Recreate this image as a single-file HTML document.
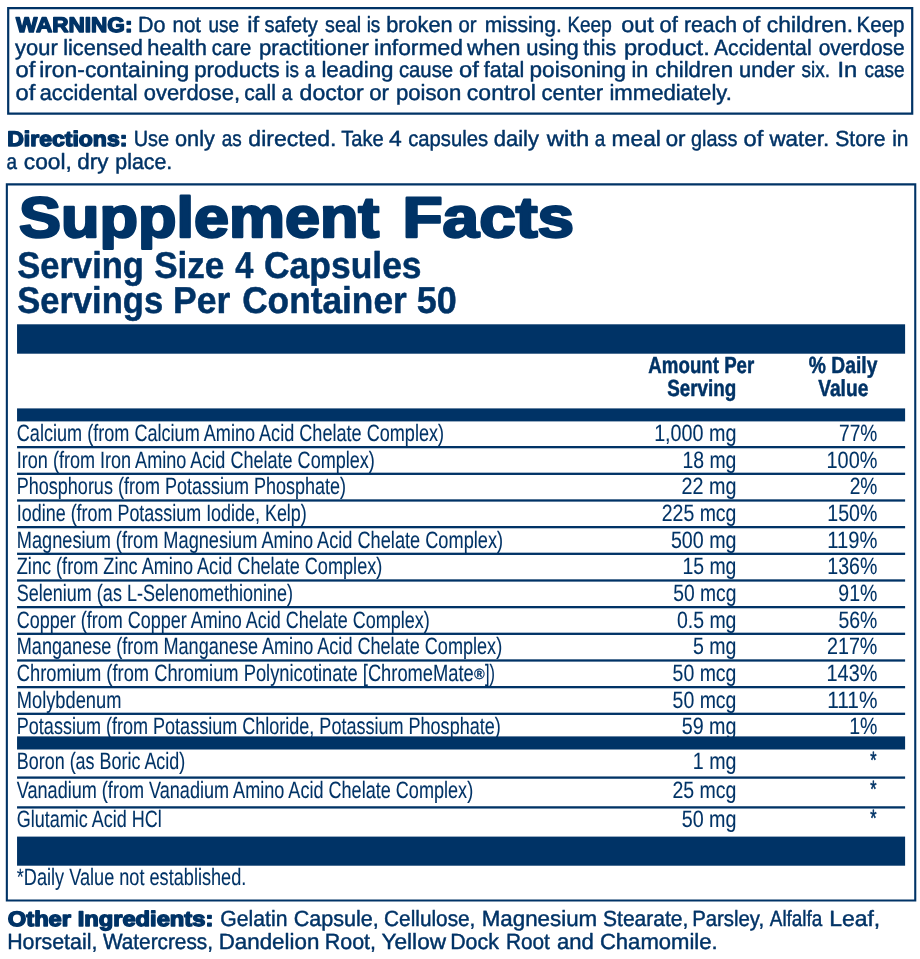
<!DOCTYPE html>
<html lang="en"><head><meta charset="utf-8"><title>Supplement Facts</title>
<style>html,body{margin:0;padding:0;background:#fff;}body{width:920px;height:959px;overflow:hidden;}svg{display:block;will-change:transform;}</style>
</head><body>
<svg width="920" height="959" viewBox="0 0 920 959">
<g fill="#003366">
<path fill-rule="evenodd" d="M7.10 7.00H913.30V114.80H7.10Z M9.30 9.20V112.60H911.10V9.20Z"/>
<path fill-rule="evenodd" d="M5.80 183.30H916.30V901.50H5.80Z M7.90 185.40V899.40H914.20V185.40Z"/>
<rect x="17.05" y="324.30" width="888.05" height="29.40"/>
<rect x="17.05" y="408.40" width="888.05" height="13.00"/>
<rect x="17.05" y="446.00" width="888.05" height="2.30"/>
<rect x="17.05" y="472.67" width="888.05" height="2.30"/>
<rect x="17.05" y="499.33" width="888.05" height="2.30"/>
<rect x="17.05" y="526.00" width="888.05" height="2.30"/>
<rect x="17.05" y="552.67" width="888.05" height="2.30"/>
<rect x="17.05" y="579.33" width="888.05" height="2.30"/>
<rect x="17.05" y="606.00" width="888.05" height="2.30"/>
<rect x="17.05" y="632.67" width="888.05" height="2.30"/>
<rect x="17.05" y="659.33" width="888.05" height="2.30"/>
<rect x="17.05" y="686.00" width="888.05" height="2.30"/>
<rect x="17.05" y="712.67" width="888.05" height="2.30"/>
<rect x="17.05" y="736.40" width="888.05" height="13.10"/>
<rect x="17.05" y="776.45" width="888.05" height="2.30"/>
<rect x="17.05" y="806.25" width="888.05" height="2.30"/>
<rect x="17.05" y="836.60" width="888.05" height="29.10"/>
</g>
<g fill="#003366" stroke="#003366" stroke-width="0" stroke-linejoin="round" text-rendering="geometricPrecision" font-family="'Liberation Sans', Arial, sans-serif">
<text x="15.90" y="32.00" font-size="21" font-weight="bold" stroke-width="1.4" textLength="116.54" lengthAdjust="spacingAndGlyphs">WARNING:</text>
<text x="138.06" y="32.00" font-size="22" stroke-width="0.45" textLength="27.53" lengthAdjust="spacingAndGlyphs">Do</text>
<text x="172.52" y="32.00" font-size="22" stroke-width="0.45" textLength="28.56" lengthAdjust="spacingAndGlyphs">not</text>
<text x="208.55" y="32.00" font-size="22" stroke-width="0.45" textLength="30.50" lengthAdjust="spacingAndGlyphs">use</text>
<text x="247.16" y="32.00" font-size="22" stroke-width="0.45" textLength="11.88" lengthAdjust="spacingAndGlyphs">if</text>
<text x="264.48" y="32.00" font-size="22" stroke-width="0.45" textLength="53.29" lengthAdjust="spacingAndGlyphs">safety</text>
<text x="325.09" y="32.00" font-size="22" stroke-width="0.45" textLength="36.13" lengthAdjust="spacingAndGlyphs">seal</text>
<text x="366.67" y="32.00" font-size="22" stroke-width="0.45" textLength="13.66" lengthAdjust="spacingAndGlyphs">is</text>
<text x="386.24" y="32.00" font-size="22" stroke-width="0.45" textLength="66.35" lengthAdjust="spacingAndGlyphs">broken</text>
<text x="458.49" y="32.00" font-size="22" stroke-width="0.45" textLength="18.08" lengthAdjust="spacingAndGlyphs">or</text>
<text x="484.69" y="32.00" font-size="22" stroke-width="0.45" textLength="77.12" lengthAdjust="spacingAndGlyphs">missing.</text>
<text x="567.49" y="32.00" font-size="22" stroke-width="0.45" textLength="44.19" lengthAdjust="spacingAndGlyphs">Keep</text>
<text x="621.17" y="32.00" font-size="22" stroke-width="0.45" textLength="32.53" lengthAdjust="spacingAndGlyphs">out</text>
<text x="659.62" y="32.00" font-size="22" stroke-width="0.45" textLength="18.36" lengthAdjust="spacingAndGlyphs">of</text>
<text x="683.97" y="32.00" font-size="22" stroke-width="0.45" textLength="53.09" lengthAdjust="spacingAndGlyphs">reach</text>
<text x="742.24" y="32.00" font-size="22" stroke-width="0.45" textLength="17.94" lengthAdjust="spacingAndGlyphs">of</text>
<text x="766.79" y="32.00" font-size="22" stroke-width="0.45" textLength="86.27" lengthAdjust="spacingAndGlyphs">children.</text>
<text x="856.54" y="32.00" font-size="22" stroke-width="0.45" textLength="48.01" lengthAdjust="spacingAndGlyphs">Keep</text>
<text x="15.12" y="55.00" font-size="22" stroke-width="0.45" textLength="42.57" lengthAdjust="spacingAndGlyphs">your</text>
<text x="63.14" y="55.00" font-size="22" stroke-width="0.45" textLength="79.75" lengthAdjust="spacingAndGlyphs">licensed</text>
<text x="147.34" y="55.00" font-size="22" stroke-width="0.45" textLength="59.46" lengthAdjust="spacingAndGlyphs">health</text>
<text x="211.80" y="55.00" font-size="22" stroke-width="0.45" textLength="39.34" lengthAdjust="spacingAndGlyphs">care</text>
<text x="259.01" y="55.00" font-size="22" stroke-width="0.45" textLength="109.89" lengthAdjust="spacingAndGlyphs">practitioner</text>
<text x="374.07" y="55.00" font-size="22" stroke-width="0.45" textLength="88.79" lengthAdjust="spacingAndGlyphs">informed</text>
<text x="467.13" y="55.00" font-size="22" stroke-width="0.45" textLength="53.30" lengthAdjust="spacingAndGlyphs">when</text>
<text x="526.23" y="55.00" font-size="22" stroke-width="0.45" textLength="52.58" lengthAdjust="spacingAndGlyphs">using</text>
<text x="583.13" y="55.00" font-size="22" stroke-width="0.45" textLength="33.12" lengthAdjust="spacingAndGlyphs">this</text>
<text x="623.90" y="55.00" font-size="22" stroke-width="0.45" textLength="85.85" lengthAdjust="spacingAndGlyphs">product.</text>
<text x="713.93" y="55.00" font-size="22" stroke-width="0.45" textLength="97.69" lengthAdjust="spacingAndGlyphs">Accidental</text>
<text x="818.67" y="55.00" font-size="22" stroke-width="0.45" textLength="85.99" lengthAdjust="spacingAndGlyphs">overdose</text>
<text x="15.46" y="77.00" font-size="22" stroke-width="0.45" textLength="19.82" lengthAdjust="spacingAndGlyphs">of</text>
<text x="39.17" y="77.00" font-size="22" stroke-width="0.45" textLength="149.99" lengthAdjust="spacingAndGlyphs">iron-containing</text>
<text x="194.21" y="77.00" font-size="22" stroke-width="0.45" textLength="85.37" lengthAdjust="spacingAndGlyphs">products</text>
<text x="285.22" y="77.00" font-size="22" stroke-width="0.45" textLength="13.66" lengthAdjust="spacingAndGlyphs">is</text>
<text x="304.82" y="77.00" font-size="22" stroke-width="0.45" textLength="10.52" lengthAdjust="spacingAndGlyphs">a</text>
<text x="321.40" y="77.00" font-size="22" stroke-width="0.45" textLength="72.13" lengthAdjust="spacingAndGlyphs">leading</text>
<text x="398.89" y="77.00" font-size="22" stroke-width="0.45" textLength="54.25" lengthAdjust="spacingAndGlyphs">cause</text>
<text x="459.06" y="77.00" font-size="22" stroke-width="0.45" textLength="19.82" lengthAdjust="spacingAndGlyphs">of</text>
<text x="483.73" y="77.00" font-size="22" stroke-width="0.45" textLength="40.60" lengthAdjust="spacingAndGlyphs">fatal</text>
<text x="529.59" y="77.00" font-size="22" stroke-width="0.45" textLength="96.55" lengthAdjust="spacingAndGlyphs">poisoning</text>
<text x="631.55" y="77.00" font-size="22" stroke-width="0.45" textLength="16.84" lengthAdjust="spacingAndGlyphs">in</text>
<text x="655.32" y="77.00" font-size="22" stroke-width="0.45" textLength="77.70" lengthAdjust="spacingAndGlyphs">children</text>
<text x="739.04" y="77.00" font-size="22" stroke-width="0.45" textLength="55.86" lengthAdjust="spacingAndGlyphs">under</text>
<text x="801.57" y="77.00" font-size="22" stroke-width="0.45" textLength="28.38" lengthAdjust="spacingAndGlyphs">six.</text>
<text x="837.43" y="77.00" font-size="22" stroke-width="0.45" textLength="19.82" lengthAdjust="spacingAndGlyphs">In</text>
<text x="864.55" y="77.00" font-size="22" stroke-width="0.45" textLength="40.03" lengthAdjust="spacingAndGlyphs">case</text>
<text x="15.46" y="100.00" font-size="22" stroke-width="0.45" textLength="19.82" lengthAdjust="spacingAndGlyphs">of</text>
<text x="39.74" y="100.00" font-size="22" stroke-width="0.45" textLength="97.81" lengthAdjust="spacingAndGlyphs">accidental</text>
<text x="143.83" y="100.00" font-size="22" stroke-width="0.45" textLength="96.15" lengthAdjust="spacingAndGlyphs">overdose,</text>
<text x="244.26" y="100.00" font-size="22" stroke-width="0.45" textLength="31.64" lengthAdjust="spacingAndGlyphs">call</text>
<text x="281.87" y="100.00" font-size="22" stroke-width="0.45" textLength="10.52" lengthAdjust="spacingAndGlyphs">a</text>
<text x="299.58" y="100.00" font-size="22" stroke-width="0.45" textLength="64.14" lengthAdjust="spacingAndGlyphs">doctor</text>
<text x="369.21" y="100.00" font-size="22" stroke-width="0.45" textLength="19.79" lengthAdjust="spacingAndGlyphs">or</text>
<text x="395.91" y="100.00" font-size="22" stroke-width="0.45" textLength="65.31" lengthAdjust="spacingAndGlyphs">poison</text>
<text x="466.89" y="100.00" font-size="22" stroke-width="0.45" textLength="68.94" lengthAdjust="spacingAndGlyphs">control</text>
<text x="541.52" y="100.00" font-size="22" stroke-width="0.45" textLength="61.59" lengthAdjust="spacingAndGlyphs">center</text>
<text x="609.42" y="100.00" font-size="22" stroke-width="0.45" textLength="122.48" lengthAdjust="spacingAndGlyphs">immediately.</text>
<text x="7.17" y="146.00" font-size="21" font-weight="bold" stroke-width="1.4" textLength="120.22" lengthAdjust="spacingAndGlyphs">Directions:</text>
<text x="133.68" y="146.00" font-size="22" stroke-width="0.45" textLength="35.34" lengthAdjust="spacingAndGlyphs">Use</text>
<text x="175.04" y="146.00" font-size="22" stroke-width="0.45" textLength="39.84" lengthAdjust="spacingAndGlyphs">only</text>
<text x="221.72" y="146.00" font-size="22" stroke-width="0.45" textLength="19.98" lengthAdjust="spacingAndGlyphs">as</text>
<text x="248.39" y="146.00" font-size="22" stroke-width="0.45" textLength="88.09" lengthAdjust="spacingAndGlyphs">directed.</text>
<text x="341.26" y="146.00" font-size="22" stroke-width="0.45" textLength="42.37" lengthAdjust="spacingAndGlyphs">Take</text>
<text x="388.90" y="146.00" font-size="22" stroke-width="0.45" textLength="12.73" lengthAdjust="spacingAndGlyphs">4</text>
<text x="408.20" y="146.00" font-size="22" stroke-width="0.45" textLength="79.82" lengthAdjust="spacingAndGlyphs">capsules</text>
<text x="493.72" y="146.00" font-size="22" stroke-width="0.45" textLength="45.25" lengthAdjust="spacingAndGlyphs">daily</text>
<text x="546.85" y="146.00" font-size="22" stroke-width="0.45" textLength="42.25" lengthAdjust="spacingAndGlyphs">with</text>
<text x="594.77" y="146.00" font-size="22" stroke-width="0.45" textLength="10.52" lengthAdjust="spacingAndGlyphs">a</text>
<text x="611.58" y="146.00" font-size="22" stroke-width="0.45" textLength="49.23" lengthAdjust="spacingAndGlyphs">meal</text>
<text x="665.71" y="146.00" font-size="22" stroke-width="0.45" textLength="19.79" lengthAdjust="spacingAndGlyphs">or</text>
<text x="691.01" y="146.00" font-size="22" stroke-width="0.45" textLength="46.40" lengthAdjust="spacingAndGlyphs">glass</text>
<text x="743.56" y="146.00" font-size="22" stroke-width="0.45" textLength="19.82" lengthAdjust="spacingAndGlyphs">of</text>
<text x="769.43" y="146.00" font-size="22" stroke-width="0.45" textLength="59.80" lengthAdjust="spacingAndGlyphs">water.</text>
<text x="835.26" y="146.00" font-size="22" stroke-width="0.45" textLength="50.31" lengthAdjust="spacingAndGlyphs">Store</text>
<text x="892.19" y="146.00" font-size="22" stroke-width="0.45" textLength="16.36" lengthAdjust="spacingAndGlyphs">in</text>
<text x="6.62" y="169.00" font-size="22" stroke-width="0.45" textLength="10.52" lengthAdjust="spacingAndGlyphs">a</text>
<text x="23.79" y="169.00" font-size="22" stroke-width="0.45" textLength="48.06" lengthAdjust="spacingAndGlyphs">cool,</text>
<text x="77.21" y="169.00" font-size="22" stroke-width="0.45" textLength="31.17" lengthAdjust="spacingAndGlyphs">dry</text>
<text x="115.27" y="169.00" font-size="22" stroke-width="0.45" textLength="56.96" lengthAdjust="spacingAndGlyphs">place.</text>
<text x="7.80" y="926.00" font-size="21" font-weight="bold" stroke-width="1.4" textLength="205.55" lengthAdjust="spacingAndGlyphs">Other Ingredients:</text>
<text x="220.37" y="926.00" font-size="22" stroke-width="0.45" textLength="67.09" lengthAdjust="spacingAndGlyphs">Gelatin</text>
<text x="293.75" y="926.00" font-size="22" stroke-width="0.45" textLength="85.10" lengthAdjust="spacingAndGlyphs">Capsule,</text>
<text x="384.09" y="926.00" font-size="22" stroke-width="0.45" textLength="91.30" lengthAdjust="spacingAndGlyphs">Cellulose,</text>
<text x="481.70" y="926.00" font-size="22" stroke-width="0.45" textLength="115.53" lengthAdjust="spacingAndGlyphs">Magnesium</text>
<text x="603.07" y="926.00" font-size="22" stroke-width="0.45" textLength="85.23" lengthAdjust="spacingAndGlyphs">Stearate,</text>
<text x="692.16" y="926.00" font-size="22" stroke-width="0.45" textLength="71.98" lengthAdjust="spacingAndGlyphs">Parsley,</text>
<text x="769.78" y="926.00" font-size="22" stroke-width="0.45" textLength="52.58" lengthAdjust="spacingAndGlyphs">Alfalfa</text>
<text x="829.15" y="926.00" font-size="22" stroke-width="0.45" textLength="51.02" lengthAdjust="spacingAndGlyphs">Leaf,</text>
<text x="7.18" y="949.00" font-size="22" stroke-width="0.45" textLength="90.15" lengthAdjust="spacingAndGlyphs">Horsetail,</text>
<text x="102.92" y="949.00" font-size="22" stroke-width="0.45" textLength="110.06" lengthAdjust="spacingAndGlyphs">Watercress,</text>
<text x="218.70" y="949.00" font-size="22" stroke-width="0.45" textLength="100.63" lengthAdjust="spacingAndGlyphs">Dandelion</text>
<text x="324.77" y="949.00" font-size="22" stroke-width="0.45" textLength="51.27" lengthAdjust="spacingAndGlyphs">Root,</text>
<text x="381.51" y="949.00" font-size="22" stroke-width="0.45" textLength="64.55" lengthAdjust="spacingAndGlyphs">Yellow</text>
<text x="450.18" y="949.00" font-size="22" stroke-width="0.45" textLength="48.70" lengthAdjust="spacingAndGlyphs">Dock</text>
<text x="505.92" y="949.00" font-size="22" stroke-width="0.45" textLength="43.96" lengthAdjust="spacingAndGlyphs">Root</text>
<text x="556.92" y="949.00" font-size="22" stroke-width="0.45" textLength="36.79" lengthAdjust="spacingAndGlyphs">and</text>
<text x="599.92" y="949.00" font-size="22" stroke-width="0.45" textLength="117.77" lengthAdjust="spacingAndGlyphs">Chamomile.</text>
<text x="19.12" y="237.10" font-size="57" font-weight="bold" stroke-width="2.4" textLength="360.19" lengthAdjust="spacingAndGlyphs">Supplement</text>
<text x="402.50" y="237.10" font-size="57" font-weight="bold" stroke-width="2.4" textLength="171.57" lengthAdjust="spacingAndGlyphs">Facts</text>
<text x="17.21" y="278.00" font-size="37.4" font-weight="bold" stroke-width="0.5" textLength="126.75" lengthAdjust="spacingAndGlyphs">Serving</text>
<text x="154.20" y="278.00" font-size="37.4" font-weight="bold" stroke-width="0.5" textLength="70.17" lengthAdjust="spacingAndGlyphs">Size</text>
<text x="235.35" y="278.00" font-size="37.4" font-weight="bold" stroke-width="0.5" textLength="18.09" lengthAdjust="spacingAndGlyphs">4</text>
<text x="264.04" y="278.00" font-size="37.4" font-weight="bold" stroke-width="0.5" textLength="157.54" lengthAdjust="spacingAndGlyphs">Capsules</text>
<text x="17.21" y="313.00" font-size="37.4" font-weight="bold" stroke-width="0.5" textLength="145.94" lengthAdjust="spacingAndGlyphs">Servings</text>
<text x="173.03" y="313.00" font-size="37.4" font-weight="bold" stroke-width="0.5" textLength="57.22" lengthAdjust="spacingAndGlyphs">Per</text>
<text x="242.15" y="313.00" font-size="37.4" font-weight="bold" stroke-width="0.5" textLength="164.60" lengthAdjust="spacingAndGlyphs">Container</text>
<text x="416.69" y="313.00" font-size="37.4" font-weight="bold" stroke-width="0.5" textLength="39.92" lengthAdjust="spacingAndGlyphs">50</text>
<text x="648.35" y="373.00" font-size="23.3" font-weight="bold" stroke-width="0.5" textLength="105.92" lengthAdjust="spacingAndGlyphs">Amount Per</text>
<text x="667.16" y="396.00" font-size="23.3" font-weight="bold" stroke-width="0.5" textLength="69.12" lengthAdjust="spacingAndGlyphs">Serving</text>
<text x="808.84" y="373.00" font-size="23.3" font-weight="bold" stroke-width="0.5" textLength="68.56" lengthAdjust="spacingAndGlyphs">% Daily</text>
<text x="818.17" y="396.00" font-size="23.3" font-weight="bold" stroke-width="0.5" textLength="50.21" lengthAdjust="spacingAndGlyphs">Value</text>
<text x="16.80" y="441.00" font-size="23.6" stroke-width="0.1" textLength="427.26" lengthAdjust="spacingAndGlyphs">Calcium (from Calcium Amino Acid Chelate Complex)</text>
<text x="654.13" y="441.00" font-size="23.6" stroke-width="0.1" textLength="82.31" lengthAdjust="spacingAndGlyphs">1,000 mg</text>
<text x="839.08" y="441.00" font-size="23.6" stroke-width="0.1" textLength="38.31" lengthAdjust="spacingAndGlyphs">77%</text>
<text x="16.80" y="467.67" font-size="23.6" stroke-width="0.1" textLength="358.01" lengthAdjust="spacingAndGlyphs">Iron (from Iron Amino Acid Chelate Complex)</text>
<text x="682.45" y="467.67" font-size="23.6" stroke-width="0.1" textLength="53.97" lengthAdjust="spacingAndGlyphs">18 mg</text>
<text x="826.52" y="467.67" font-size="23.6" stroke-width="0.1" textLength="50.89" lengthAdjust="spacingAndGlyphs">100%</text>
<text x="16.80" y="494.33" font-size="23.6" stroke-width="0.1" textLength="329.26" lengthAdjust="spacingAndGlyphs">Phosphorus (from Potassium Phosphate)</text>
<text x="681.53" y="494.33" font-size="23.6" stroke-width="0.1" textLength="54.91" lengthAdjust="spacingAndGlyphs">22 mg</text>
<text x="849.66" y="494.33" font-size="23.6" stroke-width="0.1" textLength="27.73" lengthAdjust="spacingAndGlyphs">2%</text>
<text x="16.80" y="521.00" font-size="23.6" stroke-width="0.1" textLength="290.01" lengthAdjust="spacingAndGlyphs">Iodine (from Potassium Iodide, Kelp)</text>
<text x="661.74" y="521.00" font-size="23.6" stroke-width="0.1" textLength="74.68" lengthAdjust="spacingAndGlyphs">225 mcg</text>
<text x="827.34" y="521.00" font-size="23.6" stroke-width="0.1" textLength="50.06" lengthAdjust="spacingAndGlyphs">150%</text>
<text x="16.80" y="547.67" font-size="23.6" stroke-width="0.1" textLength="486.27" lengthAdjust="spacingAndGlyphs">Magnesium (from Magnesium Amino Acid Chelate Complex)</text>
<text x="670.90" y="547.67" font-size="23.6" stroke-width="0.1" textLength="65.54" lengthAdjust="spacingAndGlyphs">500 mg</text>
<text x="827.30" y="547.67" font-size="23.6" stroke-width="0.1" textLength="50.12" lengthAdjust="spacingAndGlyphs">119%</text>
<text x="16.80" y="574.33" font-size="23.6" stroke-width="0.1" textLength="365.51" lengthAdjust="spacingAndGlyphs">Zinc (from Zinc Amino Acid Chelate Complex)</text>
<text x="682.45" y="574.33" font-size="23.6" stroke-width="0.1" textLength="53.97" lengthAdjust="spacingAndGlyphs">15 mg</text>
<text x="827.34" y="574.33" font-size="23.6" stroke-width="0.1" textLength="50.06" lengthAdjust="spacingAndGlyphs">136%</text>
<text x="16.80" y="601.00" font-size="23.6" stroke-width="0.1" textLength="276.26" lengthAdjust="spacingAndGlyphs">Selenium (as L-Selenomethionine)</text>
<text x="673.22" y="601.00" font-size="23.6" stroke-width="0.1" textLength="63.20" lengthAdjust="spacingAndGlyphs">50 mcg</text>
<text x="838.34" y="601.00" font-size="23.6" stroke-width="0.1" textLength="39.06" lengthAdjust="spacingAndGlyphs">91%</text>
<text x="16.80" y="627.67" font-size="23.6" stroke-width="0.1" textLength="413.01" lengthAdjust="spacingAndGlyphs">Copper (from Copper Amino Acid Chelate Complex)</text>
<text x="676.91" y="627.67" font-size="23.6" stroke-width="0.1" textLength="59.52" lengthAdjust="spacingAndGlyphs">0.5 mg</text>
<text x="838.51" y="627.67" font-size="23.6" stroke-width="0.1" textLength="38.89" lengthAdjust="spacingAndGlyphs">56%</text>
<text x="16.80" y="654.33" font-size="23.6" stroke-width="0.1" textLength="485.36" lengthAdjust="spacingAndGlyphs">Manganese (from Manganese Amino Acid Chelate Complex)</text>
<text x="693.01" y="654.33" font-size="23.6" stroke-width="0.1" textLength="43.42" lengthAdjust="spacingAndGlyphs">5 mg</text>
<text x="827.03" y="654.33" font-size="23.6" stroke-width="0.1" textLength="50.37" lengthAdjust="spacingAndGlyphs">217%</text>
<text x="16.80" y="681.00" font-size="23.6" stroke-width="0.1" textLength="456.95" lengthAdjust="spacingAndGlyphs">Chromium (from Chromium Polynicotinate [ChromeMate</text>
<text x="473.91" y="678.80" font-size="15" font-weight="bold" stroke-width="0.2" textLength="10.74" lengthAdjust="spacingAndGlyphs">®</text>
<text x="484.98" y="681.00" font-size="23.6" stroke-width="0.1" textLength="9.98" lengthAdjust="spacingAndGlyphs">])</text>
<text x="672.61" y="681.00" font-size="23.6" stroke-width="0.1" textLength="63.82" lengthAdjust="spacingAndGlyphs">50 mcg</text>
<text x="826.52" y="681.00" font-size="23.6" stroke-width="0.1" textLength="50.89" lengthAdjust="spacingAndGlyphs">143%</text>
<text x="16.80" y="707.67" font-size="23.6" stroke-width="0.1" textLength="104.58" lengthAdjust="spacingAndGlyphs">Molybdenum</text>
<text x="672.61" y="707.67" font-size="23.6" stroke-width="0.1" textLength="63.82" lengthAdjust="spacingAndGlyphs">50 mcg</text>
<text x="827.25" y="707.67" font-size="23.6" stroke-width="0.1" textLength="50.19" lengthAdjust="spacingAndGlyphs">111%</text>
<text x="16.80" y="734.33" font-size="23.6" stroke-width="0.1" textLength="483.96" lengthAdjust="spacingAndGlyphs">Potassium (from Potassium Chloride, Potassium Phosphate)</text>
<text x="681.70" y="734.33" font-size="23.6" stroke-width="0.1" textLength="54.74" lengthAdjust="spacingAndGlyphs">59 mg</text>
<text x="849.14" y="734.33" font-size="23.6" stroke-width="0.1" textLength="28.26" lengthAdjust="spacingAndGlyphs">1%</text>
<text x="16.80" y="769.00" font-size="23.6" stroke-width="0.1" textLength="168.45" lengthAdjust="spacingAndGlyphs">Boron (as Boric Acid)</text>
<text x="692.84" y="769.00" font-size="23.6" stroke-width="0.1" textLength="43.60" lengthAdjust="spacingAndGlyphs">1 mg</text>
<text x="870.29" y="768.00" font-size="23.6" stroke-width="0.6" textLength="6.30" lengthAdjust="spacingAndGlyphs">*</text>
<text x="16.80" y="798.00" font-size="23.6" stroke-width="0.1" textLength="456.36" lengthAdjust="spacingAndGlyphs">Vanadium (from Vanadium Amino Acid Chelate Complex)</text>
<text x="672.44" y="798.00" font-size="23.6" stroke-width="0.1" textLength="63.99" lengthAdjust="spacingAndGlyphs">25 mcg</text>
<text x="870.29" y="797.00" font-size="23.6" stroke-width="0.6" textLength="6.30" lengthAdjust="spacingAndGlyphs">*</text>
<text x="16.80" y="827.00" font-size="23.6" stroke-width="0.1" textLength="145.02" lengthAdjust="spacingAndGlyphs">Glutamic Acid HCl</text>
<text x="681.70" y="827.00" font-size="23.6" stroke-width="0.1" textLength="54.74" lengthAdjust="spacingAndGlyphs">50 mg</text>
<text x="870.29" y="826.00" font-size="23.6" stroke-width="0.6" textLength="6.30" lengthAdjust="spacingAndGlyphs">*</text>
<text x="16.80" y="885.00" font-size="23.6" stroke-width="0.1" textLength="229.53" lengthAdjust="spacingAndGlyphs">*Daily Value not established.</text>
</g>
</svg>
</body></html>
